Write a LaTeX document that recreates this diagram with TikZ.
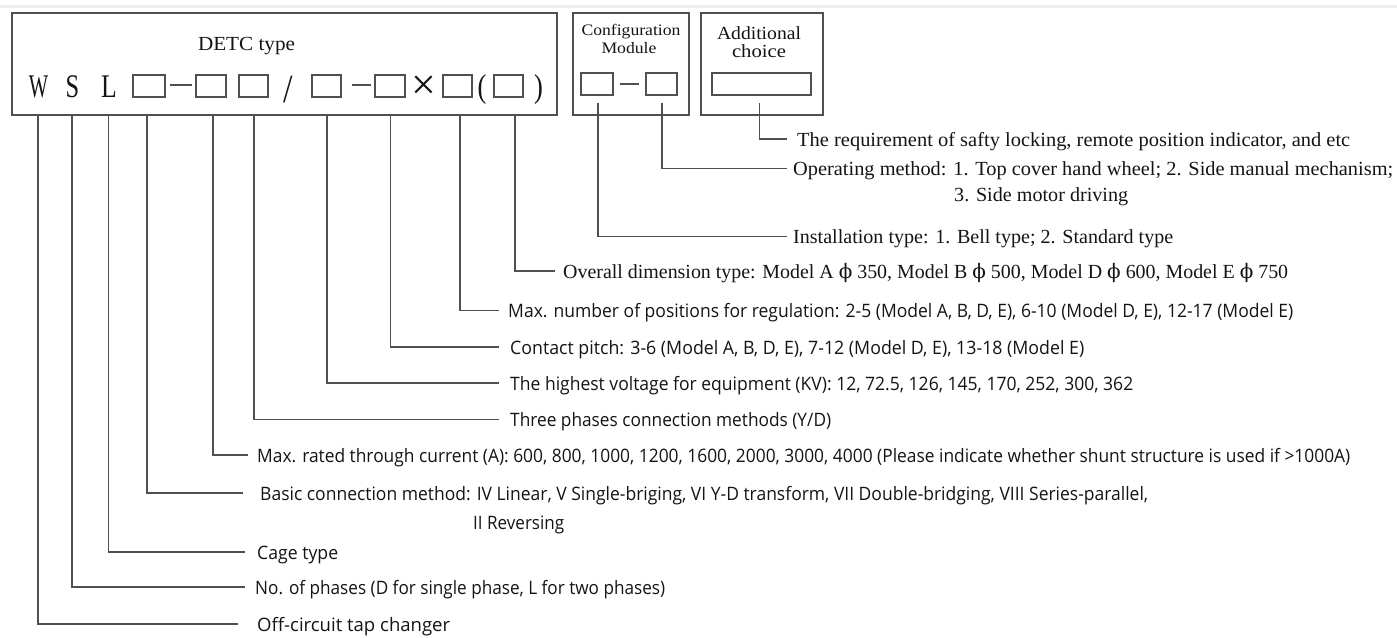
\documentclass[tikz,border=0pt]{standalone}
\usepackage{fontspec}
\usepackage{graphicx}
\setmainfont{Liberation Serif}
\newfontfamily\sansf{Open Sans}
\newfontfamily\dvs{DejaVu Serif}
\definecolor{lg}{HTML}{505050}
\definecolor{tx}{HTML}{141414}
\definecolor{band}{HTML}{EDEDED}
\newsavebox\fitbox
\newcommand\fitx[2]{\sbox\fitbox{#2}\pgfmathsetmacro\fitfac{#1/\the\wd\fitbox}\scalebox{\fitfac}[1]{\usebox\fitbox}}
\newcommand\phisym{{\dvs ϕ}}
\begin{document}
\begin{tikzpicture}[x=1pt,y=-1pt,
  ln/.style={draw=lg, line width=1.1pt},
  bigbox/.style={draw=lg, line width=1.3pt, inner sep=0pt, minimum height=102},
  sq/.style={draw=lg, line width=1.2pt, inner sep=0pt, minimum height=22},
  code/.style={inner sep=0pt, anchor=base, font=\fontsize{33}{33}\selectfont, text=tx},
  ttl/.style={inner sep=0pt, anchor=base, text=tx},
  ser/.style={inner sep=0pt, anchor=base west, font=\fontsize{20}{22}\selectfont, text=tx},
  san/.style={inner sep=0pt, anchor=base west, font=\sansf\fontsize{18.5}{22}\selectfont, text=tx}]
\useasboundingbox (0,0) rectangle (1397,637);
\fill[band] (0,5) rectangle (1397,8);

% frames
\node[bigbox, minimum width=545] (main) at (284.5,64) {};
\node[bigbox, minimum width=116] (cfg) at (631,64) {};
\node[bigbox, minimum width=122] (add) at (762,64) {};

% titles
\node[ttl, font=\fontsize{20}{22}\selectfont] (tdetc) at (246.5,50) {\fitx{97}{DETC type}};
\node[ttl, font=\fontsize{16}{18}\selectfont] (tcfg1) at (631,35.5) {\fitx{99}{Configuration}};
\node[ttl, font=\fontsize{16}{18}\selectfont] (tcfg2) at (629,53) {\fitx{55}{Module}};
\node[ttl, font=\fontsize{18.5}{22}\selectfont] (tadd1) at (759,39.5) {\fitx{84}{Additional}};
\node[ttl, font=\fontsize{18.5}{22}\selectfont] (tadd2) at (759,57) {\fitx{54}{choice}};

% code row
\node[code] (cw) at (38.5,97) {\scalebox{0.62}[1]{W}};
\node[code] (cs) at (72.5,97) {\scalebox{0.74}[1]{S}};
\node[code] (cl) at (109,97) {\scalebox{0.78}[1]{L}};
\node[sq, minimum width=32] (b1) at (149,86) {};
\draw[ln] (170,85) -- (192,85);
\node[sq, minimum width=30] (b2) at (211,86) {};
\node[sq, minimum width=29] (b3) at (253.5,86) {};
\node[inner sep=0pt, font=\fontsize{40}{40}\selectfont, text=tx] (csl) at (288.5,90) {\scalebox{0.85}[1]{/}};
\node[sq, minimum width=29] (b4) at (326.5,86) {};
\draw[ln] (352,85) -- (371,85);
\node[sq, minimum width=30] (b5) at (390,86) {};
\node[inner sep=0pt, font=\fontsize{44}{44}\selectfont, text=tx] (cx) at (424,87.5) {×};
\node[sq, minimum width=29] (b6) at (457.5,86) {};
\node[code] (clp) at (482,97) {\scalebox{0.8}[1]{(}};
\node[sq, minimum width=29] (b7) at (508.5,86) {};
\node[code] (crp) at (538.5,97) {\scalebox{0.8}[1]{)}};

\node[sq, minimum width=32] (ca) at (597,84) {};
\draw[ln] (620,84) -- (639,84);
\node[sq, minimum width=31] (cb) at (661.5,84) {};
\node[sq, minimum width=99] (ad) at (761.5,84) {};

% start points of leaders
\coordinate (s1) at (759.5,103);
\coordinate (s2) at (662,103);
\coordinate (s3) at (598,103);
\coordinate (s4) at (515,115);
\coordinate (s5) at (460,115);
\coordinate (s6) at (390.5,115);
\coordinate (s7) at (327,115);
\coordinate (s8) at (254,115);
\coordinate (s9) at (213,115);
\coordinate (s10) at (147,115);
\coordinate (s11) at (108.5,115);
\coordinate (s12) at (72,115);
\coordinate (s13) at (38,115);
% end points
\coordinate (e1) at (787,139);
\coordinate (e2) at (787,168.5);
\coordinate (e3) at (787,236.5);
\coordinate (e4) at (555,271);
\coordinate (e5) at (499,310.5);
\coordinate (e6) at (499,347);
\coordinate (e7) at (499,383);
\coordinate (e8) at (499,419.5);
\coordinate (e9) at (248,455);
\coordinate (e10) at (243,493);
\coordinate (e11) at (245,552);
\coordinate (e12) at (245,587);
\coordinate (e13) at (238,624);
\foreach \i in {1,...,13} {\draw[ln] (s\i) |- (e\i);}

% labels
\node[ser] (t1) at (797,146.5) {\fitx{553}{The requirement of safty locking, remote position indicator, and etc}};
\node[ser] (t2) at (793,175.5) {\fitx{600}{Operating method: 1. Top cover hand wheel; 2. Side manual mechanism;}};
\node[ser] (t2b) at (954,201.5) {\fitx{174}{3. Side motor driving}};
\node[ser] (t3) at (793,243.5) {\fitx{380}{Installation type: 1. Bell type; 2. Standard type}};
\node[ser] (t4) at (563,278) {\fitx{725}{Overall dimension type: Model A \phisym\ 350, Model B \phisym\ 500, Model D \phisym\ 600, Model E \phisym\ 750}};
\node[san] (t5) at (508,317.5) {\fitx{785}{Max. number of positions for regulation: 2-5 (Model A, B, D, E), 6-10 (Model D, E), 12-17 (Model E)}};
\node[san] (t6) at (510,354) {\fitx{574}{Contact pitch: 3-6 (Model A, B, D, E), 7-12 (Model D, E), 13-18 (Model E)}};
\node[san] (t7) at (510,390) {\fitx{623}{The highest voltage for equipment (KV): 12, 72.5, 126, 145, 170, 252, 300, 362}};
\node[san] (t8) at (510,426.5) {\fitx{321}{Three phases connection methods (Y/D)}};
\node[san] (t9) at (257,462) {\fitx{1093}{Max. rated through current (A): 600, 800, 1000, 1200, 1600, 2000, 3000, 4000 (Please indicate whether shunt structure is used if >1000A)}};
\node[san] (t10) at (260,500) {\fitx{888}{Basic connection method: IV Linear, V Single-briging, VI Y-D transform, VII Double-bridging, VIII Series-parallel,}};
\node[san] (t10b) at (473,529.5) {\fitx{91}{II Reversing}};
\node[san] (t11) at (257,559) {\fitx{81}{Cage type}};
\node[san] (t12) at (255,594) {\fitx{410}{No. of phases (D for single phase, L for two phases)}};
\node[san] (t13) at (257,631) {\fitx{193}{Off-circuit tap changer}};
\end{tikzpicture}
\end{document}
